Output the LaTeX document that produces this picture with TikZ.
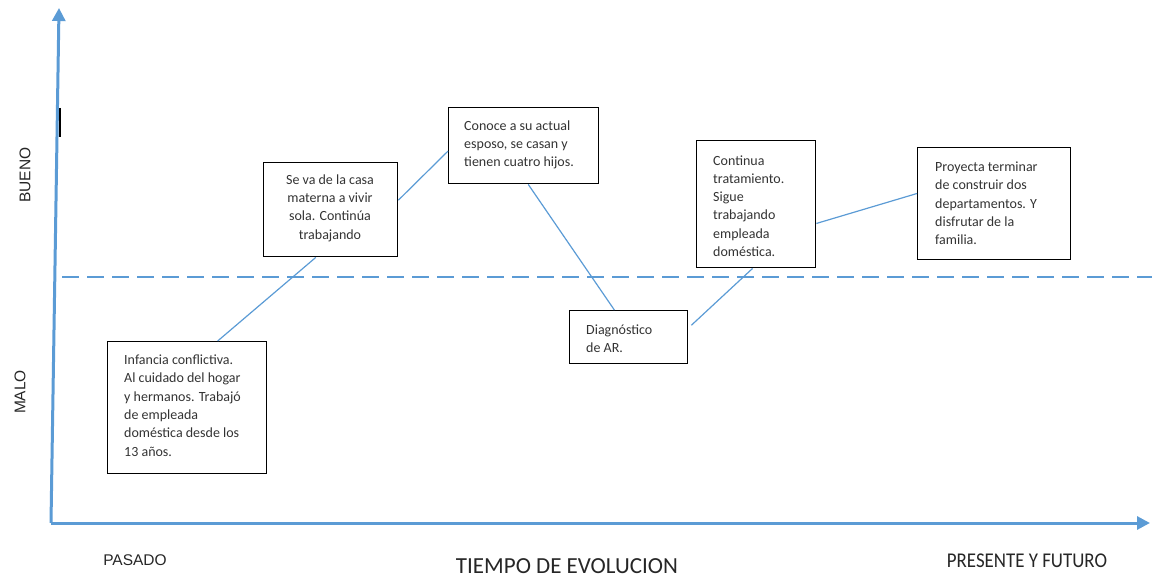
\documentclass[tikz,border=0pt]{standalone}
\usepackage{fontspec}
\setmainfont{Carlito}
\newfontfamily\arialf{Liberation Sans}
\usetikzlibrary{arrows.meta,calc}
\definecolor{axisblue}{RGB}{91,155,213}
\begin{document}
\begin{tikzpicture}[x=1pt,y=-1pt,
  axis/.style={draw=axisblue, line width=3pt, -{Triangle[length=13pt,width=13pt]}},
  guide/.style={draw=axisblue, line width=1.4pt, dash pattern=on 17pt off 8pt},
  link/.style={draw=axisblue, line width=1.2pt},
  evbox/.style={draw=black, line width=1.4pt, anchor=north west, inner sep=0pt},
  evtext/.style={inner sep=0pt, font=\fontsize{14}{18.3}\selectfont, text=black!80},
  axlabel/.style={inner sep=0pt, font=\arialf\fontsize{15.5}{18}\selectfont, text=black!85}]
\useasboundingbox (0,0) rectangle (1152,577);
% axes
\coordinate (O) at (51,523);
\coordinate (ytop) at (59,8);
\coordinate (xend) at (1150,523);
\draw[axis] (O) -- (ytop);
\draw[axis] (O) -- (xend);
\coordinate (d1) at (62,277);
\coordinate (d2) at (1152,277);
\draw[guide] (d1) -- (d2);
\coordinate (k1) at (60,108);
\coordinate (k2) at (60,137);
\draw[black, line width=1.6pt] (k1) -- (k2);
% labels
\node[axlabel, rotate=90] (lb) at (25,175) {BUENO};
\node[axlabel, rotate=90] (lm) at (20,392) {MALO};
\node[axlabel] (lp) at (135,560) {PASADO};
\node[inner sep=0pt, font=\fontsize{23}{26}\selectfont, text=black!85] (lt) at (567,566) {TIEMPO DE EVOLUCION};
\node[inner sep=0pt, font=\fontsize{21}{24}\selectfont, text=black!85] (lf) at (1027,561) {\scalebox{0.9}[1]{PRESENTE Y FUTURO}};
% boxes
\node[evbox, minimum width=159pt, minimum height=132pt] (b6) at (107,341) {};
\node[evbox, minimum width=134pt, minimum height=94pt] (b1) at (263,162) {};
\node[evbox, minimum width=150pt, minimum height=76pt] (b2) at (448,107) {};
\node[evbox, minimum width=118pt, minimum height=53pt] (b4) at (569,310) {};
\node[evbox, minimum width=119pt, minimum height=127pt] (b3) at (696,140) {};
\node[evbox, minimum width=153pt, minimum height=112pt] (b5) at (917,147) {};
% texts
\node[evtext, anchor=west, align=left] (t6) at (124,405.5) {Infancia conflictiva.\\Al cuidado del hogar\\y hermanos. Trabajó\\de empleada\\doméstica desde los\\13 años.};
\node[evtext, align=center] (t1) at (330,208) {Se va de la casa\\materna a vivir\\sola. Continúa\\trabajando};
\node[evtext, anchor=west, align=left] (t2) at (464,145) {Conoce a su actual\\esposo, se casan y\\tienen cuatro hijos.};
\node[evtext, anchor=west, align=left] (t4) at (586,338.5) {Diagnóstico\\de AR.};
\node[evtext, anchor=west, align=left] (t3) at (713,206) {Continua\\tratamiento.\\Sigue\\trabajando\\empleada\\doméstica.};
\node[evtext, anchor=west, align=left] (t5) at (935,203.5) {Proyecta terminar\\de construir dos\\departamentos. Y\\disfrutar de la\\familia.};
% connectors
\draw[link] ($(b6.north west)!0.69!(b6.north east)$) -- ($(b1.south west)!0.39!(b1.south east)$);
\draw[link] ($(b1.north east)!0.40!(b1.south east)$) -- ($(b2.north west)!0.57!(b2.south west)$);
\draw[link] ($(b2.south west)!0.53!(b2.south east)$) -- ($(b4.north west)!0.38!(b4.north east)$);
\draw[link] ($(b4.north east)!0.28!(b4.south east)+(3,0)$) -- ($(b3.south west)!0.47!(b3.south east)$);
\draw[link] ($(b3.north east)!0.65!(b3.south east)$) -- ($(b5.north west)!0.41!(b5.south west)$);
\end{tikzpicture}
\end{document}
